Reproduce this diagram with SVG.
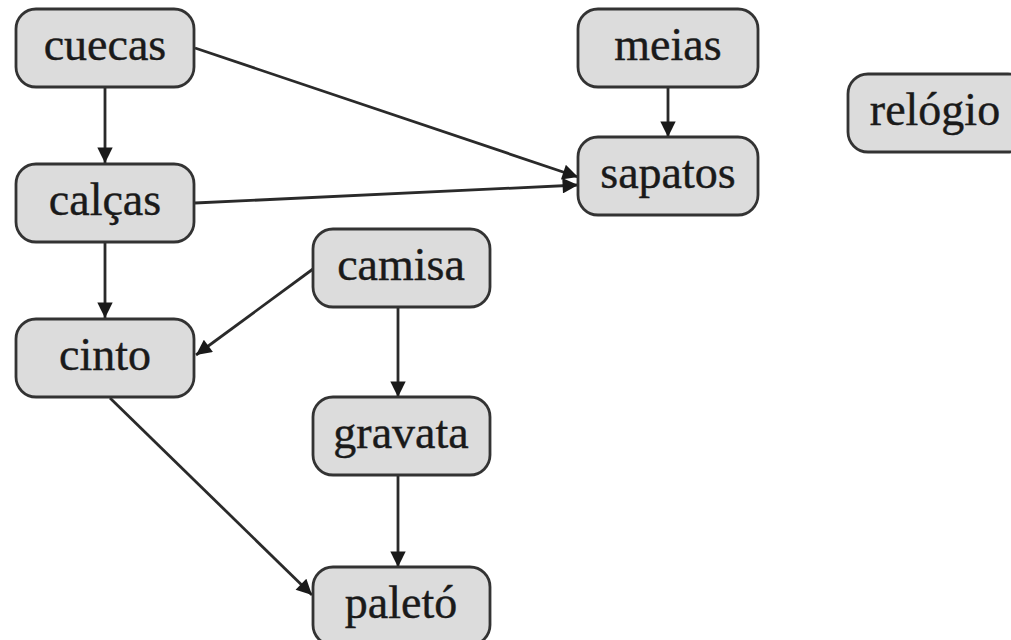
<svg xmlns="http://www.w3.org/2000/svg" width="1011" height="640" viewBox="0 0 1011 640">
<style>
.node rect{fill:#dcdcdc;stroke:#333;stroke-width:2.8}
.node text{font-family:"Liberation Serif",serif;font-size:46px;fill:#1a1a1a;stroke:#1a1a1a;stroke-width:0.4;text-anchor:middle}
.edges line{stroke:#2a2a2a;stroke-width:2.8;marker-end:url(#ah)}
</style>
<defs>
<marker id="ah" viewBox="0 0 10 10" refX="10" refY="5" markerWidth="6" markerHeight="5.5" markerUnits="strokeWidth" orient="auto">
<path d="M0,0 L10,5 L0,10 z" fill="#1a1a1a"/>
</marker>
</defs>
<rect width="1011" height="640" fill="#fff"/>
<g class="edges">
<line x1="105" y1="87" x2="105" y2="163"/>
<line x1="105" y1="242" x2="105" y2="318"/>
<line x1="195" y1="48" x2="578" y2="177"/>
<line x1="195" y1="203" x2="578" y2="185"/>
<line x1="668" y1="87" x2="668" y2="137"/>
<line x1="313" y1="269" x2="196" y2="355"/>
<line x1="398" y1="307" x2="398" y2="397"/>
<line x1="398" y1="475" x2="398" y2="567"/>
<line x1="110" y1="398" x2="312" y2="595"/>
</g>
<g id="cuecas" class="node"><rect x="16" y="9" width="178" height="78" rx="20"/><text x="105" y="60">cuecas</text></g>
<g id="calcas" class="node"><rect x="16" y="164" width="178" height="78" rx="20"/><text x="105" y="215">calças</text></g>
<g id="cinto" class="node"><rect x="16" y="319" width="178" height="78" rx="20"/><text x="105" y="370">cinto</text></g>
<g id="camisa" class="node"><rect x="313" y="229" width="177" height="78" rx="20"/><text x="401" y="280">camisa</text></g>
<g id="gravata" class="node"><rect x="313" y="397" width="177" height="78" rx="20"/><text x="401" y="448">gravata</text></g>
<g id="paleto" class="node"><rect x="313" y="567" width="177" height="78" rx="20"/><text x="401" y="618">paletó</text></g>
<g id="meias" class="node"><rect x="578" y="9" width="180" height="78" rx="20"/><text x="668" y="60">meias</text></g>
<g id="sapatos" class="node"><rect x="578" y="137" width="180" height="78" rx="20"/><text x="668" y="188">sapatos</text></g>
<g id="relogio" class="node"><rect x="848" y="74" width="180" height="78" rx="20"/><text x="935" y="125">relógio</text></g>
</svg>
